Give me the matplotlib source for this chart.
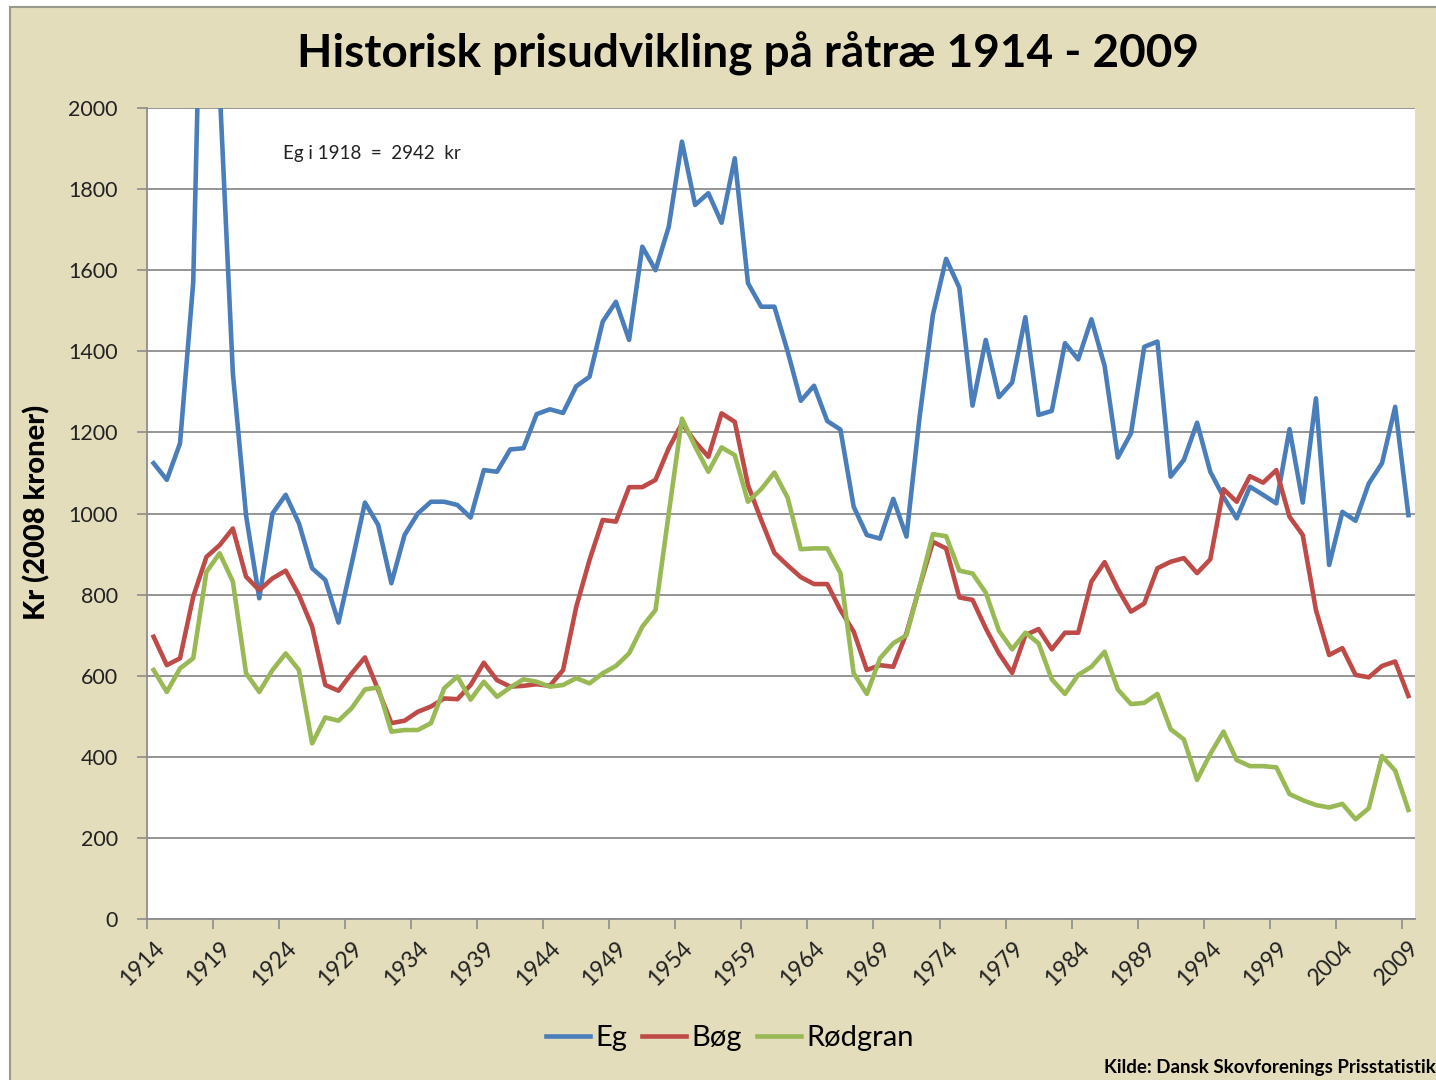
import matplotlib.pyplot as plt
from matplotlib.patches import Rectangle

# data (2008 kroner per m3)
years = list(range(1914, 2010))

eg = [1124, 1083, 1173, 1570, 2942, 2050, 1346, 995, 791, 1000,
      1046, 976, 865, 836, 731, 877, 1027, 972, 828, 947,
      1000, 1029, 1029, 1021, 990, 1107, 1103, 1158, 1161, 1245,
      1257, 1248, 1314, 1337, 1473, 1522, 1428, 1658, 1600, 1707,
      1917, 1761, 1790, 1717, 1876, 1568, 1510, 1510, 1400, 1278,
      1315, 1228, 1207, 1017, 947, 938, 1036, 943, 1240, 1490,
      1628, 1557, 1266, 1428, 1287, 1323, 1484, 1243, 1253, 1420,
      1380, 1479, 1364, 1138, 1198, 1411, 1424, 1091, 1132, 1224,
      1103, 1041, 988, 1066, 1046, 1025, 1208, 1027, 1284, 873,
      1004, 982, 1074, 1124, 1263, 996]

bog = [696, 626, 643, 795, 893, 922, 963, 844, 811, 840,
       859, 799, 721, 577, 563, 606, 645, 565, 483, 489,
       511, 524, 544, 542, 577, 632, 589, 573, 575, 579,
       575, 614, 770, 885, 984, 980, 1065, 1065, 1083, 1161,
       1222, 1177, 1140, 1247, 1226, 1070, 984, 903, 872, 843,
       826, 826, 762, 709, 614, 626, 622, 705, 820, 930,
       914, 793, 787, 717, 655, 607, 700, 715, 665, 706,
       706, 832, 880, 814, 758, 778, 865, 881, 890, 853,
       887, 1060, 1029, 1092, 1076, 1107, 992, 947, 762, 651,
       668, 602, 596, 624, 635, 550]

rodgran = [614, 560, 618, 643, 856, 902, 832, 606, 560, 614,
           655, 614, 433, 497, 489, 520, 566, 571, 462, 466,
           466, 483, 569, 598, 541, 585, 548, 571, 591, 585,
           573, 577, 594, 581, 606, 624, 655, 721, 762, 1000,
           1234, 1165, 1103, 1163, 1144, 1029, 1060, 1101, 1039, 912,
           914, 914, 853, 606, 555, 643, 680, 700, 821, 949,
           944, 859, 852, 805, 711, 665, 706, 680, 591, 555,
           602, 622, 659, 566, 530, 533, 555, 468, 443, 343,
           407, 462, 392, 377, 377, 374, 308, 293, 281, 275,
           284, 246, 273, 402, 366, 269]

series_names = ['Eg', 'Bøg', 'Rødgran']
series_colors = ['#4A7EBB', '#BE4B48', '#98B954']

plt.rcParams['font.family'] = ['Lato', 'DejaVu Sans']

W, H = 1436, 1080
fig = plt.figure(figsize=(W / 100, H / 100), dpi=100)
fig.patch.set_facecolor('white')

# beige chart area with grey frame, behind everything
fig.patches.append(Rectangle((10 / W, -0.01), 1.0, 1 - 7 / H + 0.01,
                             transform=fig.transFigure, facecolor='#E3DDBC',
                             edgecolor='#9a9a8a', linewidth=1.5, zorder=-10))

ax = fig.add_axes([147 / W, (H - 919) / H, (1415 - 147) / W, (919 - 108) / H])
ax.set_facecolor('white')
ax.set_zorder(1)

for vals, name, col in zip([eg, bog, rodgran], series_names, series_colors):
    ax.plot(years, vals, color=col, linewidth=3.3, label=name)

ax.set_xlim(1913.5, 2009.5)
ax.set_ylim(0, 2000)
ax.set_yticks(range(0, 2001, 200))
ax.yaxis.grid(True, color='#8c8c8c', linewidth=1.3)
ax.set_axisbelow(True)

# tick marks between categories, labels on the categories
label_years = list(range(1914, 2010, 5))
ax.set_xticks([y - 0.5 for y in label_years])
ax.set_xticklabels([])
ax.set_xticks(label_years, minor=True)
ax.set_xticklabels([str(y) for y in label_years], minor=True, rotation=45,
                   ha='right', rotation_mode='anchor', fontsize=16.5, color='#222222')
ax.tick_params(axis='x', which='major', length=7, width=1.2, color='#8c8c8c')
ax.tick_params(axis='x', which='minor', length=0, pad=13)
ax.tick_params(axis='y', length=7, width=1.2, color='#8c8c8c', pad=14,
               labelsize=15.5, labelcolor='#222222')

for s in ['top', 'right']:
    ax.spines[s].set_visible(False)
for s in ['left', 'bottom']:
    ax.spines[s].set_color('#8c8c8c')
    ax.spines[s].set_linewidth(1.3)

ax.text(1923.8, 1889, 'Eg i 1918  =  2942  kr', fontsize=13.5, va='center', ha='left', color='#222222')

fig.text(748 / W, 1 - 54 / H, 'Historisk prisudvikling på råtræ 1914 - 2009',
         fontsize=33, fontweight='bold', ha='center', va='center')
fig.text(37 / W, 1 - 512 / H, 'Kr (2008 kroner)', fontsize=21, fontweight='black',
         rotation=90, ha='center', va='center')
fig.text(1.0, 1 - 1068 / H, 'Kilde: Dansk Skovforenings Prisstatistik', fontsize=13.5,
         fontweight='bold', ha='right', va='center')

fig.legend(loc='center', bbox_to_anchor=(730 / W, 1 - 1038 / H), ncol=3, frameon=False,
           fontsize=21, handlelength=1.5, handletextpad=0.2, columnspacing=0.5)

fig.savefig('out.png', dpi=100, facecolor=fig.get_facecolor())
